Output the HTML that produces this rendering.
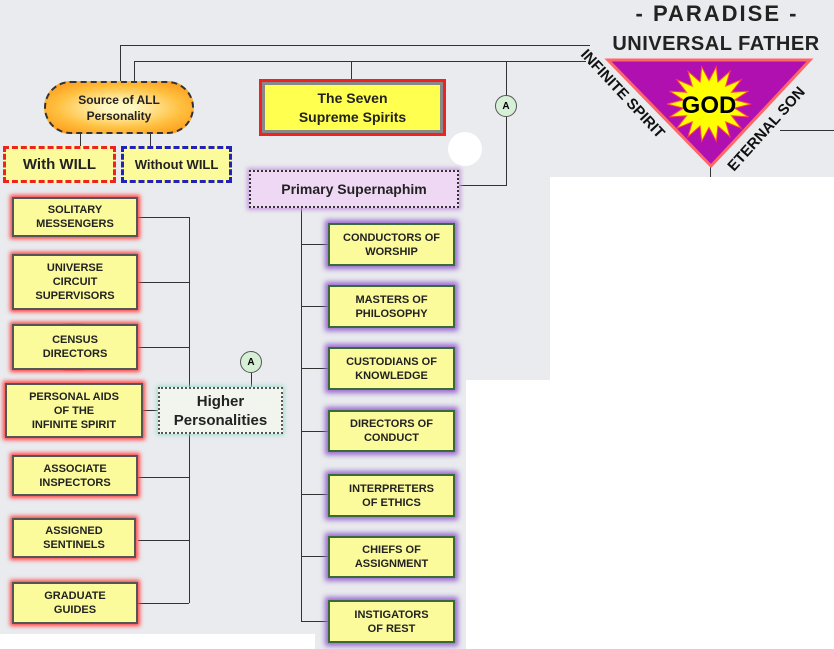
<!DOCTYPE html>
<html><head><meta charset="utf-8"><style>
body{margin:0;width:834px;height:649px;position:relative;overflow:hidden;background:#fff;font-family:"Liberation Sans",Verdana,sans-serif;}
.bg{position:absolute;background:#e9ebee;}
.b{position:absolute;box-sizing:border-box;background:#fbfb9c;border:2px solid #555;display:flex;align-items:center;justify-content:center;text-align:center;font-weight:bold;font-size:11px;line-height:14px;color:#222;}
.l{box-shadow:0 0 4px 2px #f44;}
.r{box-shadow:0 0 5px 3px #9a6ad0;border-color:#3a6a3a;}
.h{position:absolute;background:#333;}
.c{position:absolute;width:22px;height:22px;border-radius:50%;background:#d6f0d6;border:1px solid #555;font-size:10px;font-weight:bold;display:flex;align-items:center;justify-content:center;box-sizing:border-box;}
</style></head><body>
<div class="bg" style="left:0;top:0;width:834px;height:177px"></div>
<div class="bg" style="left:0;top:177px;width:550px;height:203px"></div>
<div class="bg" style="left:0;top:380px;width:466px;height:254px"></div>
<div class="bg" style="left:315px;top:634px;width:151px;height:15px"></div>

<div class="h" style="left:120px;top:45px;width:470px;height:1px"></div>
<div class="h" style="left:351px;top:61px;width:235px;height:1px"></div>
<div class="h" style="left:120px;top:45px;width:1px;height:37px"></div>
<div class="h" style="left:134px;top:61px;width:1px;height:21px"></div>
<div class="h" style="left:134px;top:61px;width:217px;height:1px"></div>
<div class="h" style="left:351px;top:61px;width:1px;height:18px"></div>
<div class="h" style="left:506px;top:61px;width:1px;height:124px"></div>
<div class="h" style="left:459px;top:185px;width:48px;height:1px"></div>
<div class="h" style="left:780px;top:130px;width:54px;height:1px"></div>
<div class="h" style="left:710px;top:163px;width:1px;height:14px"></div>
<div class="h" style="left:80px;top:134px;width:1px;height:12px"></div>
<div class="h" style="left:150px;top:134px;width:1px;height:12px"></div>
<div class="h" style="left:189px;top:217px;width:1px;height:386px"></div>
<div class="h" style="left:301px;top:208px;width:1px;height:414px"></div>
<div class="h" style="left:251px;top:373px;width:1px;height:14px"></div>
<div class="h" style="left:138px;top:217px;width:51px;height:1px"></div>
<div class="h" style="left:138px;top:282px;width:51px;height:1px"></div>
<div class="h" style="left:138px;top:347px;width:51px;height:1px"></div>
<div class="h" style="left:138px;top:410px;width:20px;height:1px"></div>
<div class="h" style="left:138px;top:477px;width:51px;height:1px"></div>
<div class="h" style="left:138px;top:540px;width:51px;height:1px"></div>
<div class="h" style="left:138px;top:603px;width:51px;height:1px"></div>
<div class="h" style="left:301px;top:244px;width:27px;height:1px"></div>
<div class="h" style="left:301px;top:306px;width:27px;height:1px"></div>
<div class="h" style="left:301px;top:368px;width:27px;height:1px"></div>
<div class="h" style="left:301px;top:431px;width:27px;height:1px"></div>
<div class="h" style="left:301px;top:494px;width:27px;height:1px"></div>
<div class="h" style="left:301px;top:556px;width:27px;height:1px"></div>
<div class="h" style="left:301px;top:621px;width:27px;height:1px"></div>

<div style="position:absolute;left:600px;top:1px;width:234px;text-align:center;font-weight:bold;font-size:22px;color:#222;letter-spacing:2px">- PARADISE -</div>
<div style="position:absolute;left:596px;top:33px;width:240px;text-align:center;font-weight:bold;font-size:20px;color:#222;letter-spacing:0.5px">UNIVERSAL FATHER</div>
<svg style="position:absolute;left:0;top:0" width="834" height="649">
<polygon points="608,60 810,60 711,166" fill="#b010b0" stroke="#f66" stroke-width="3"/>
<polygon id="s" fill="#ffff00" stroke="#f44" stroke-width="1" points=""/>
<text x="709" y="113" font-family="Liberation Sans" font-weight="bold" font-size="24" text-anchor="middle" fill="#000">GOD</text>
<text transform="translate(580,55) rotate(47)" font-family="Liberation Sans" font-weight="bold" font-size="15" fill="#111">INFINITE SPIRIT</text>
<text transform="translate(734,172) rotate(-48)" font-family="Liberation Sans" font-weight="bold" font-size="15" fill="#111">ETERNAL SON</text>
<circle cx="465" cy="149" r="17" fill="#fff"/>
<ellipse cx="73" cy="347" rx="58" ry="21" fill="none" stroke="#e00" stroke-width="5"/>
</svg>
<script>
var p=[],n=18;for(var i=0;i<2*n;i++){var r=i%2?26:42,a=i*Math.PI/n;p.push((709+r*Math.cos(a)).toFixed(1)+","+(104+r*0.9*Math.sin(a)).toFixed(1));}
document.getElementById('s').setAttribute('points',p.join(' '));
</script>

<div class="b" style="left:44px;top:81px;width:150px;height:53px;border-radius:27px;border:2px dashed #333;background:radial-gradient(ellipse,#fff8c0 15%,#ffc040 60%,#ff9010);font-size:12px;line-height:16px">Source of ALL<br>Personality</div>
<div class="b" style="left:3px;top:146px;width:113px;height:37px;border:3px dashed #e22;font-size:15px">With WILL</div>
<div class="b" style="left:121px;top:146px;width:111px;height:37px;border:3px dashed #22b;font-size:13px">Without WILL</div>
<div class="b" style="left:259px;top:79px;width:187px;height:57px;border:3px solid #e22;font-size:14px;line-height:19px;background:#ffff50;box-shadow:inset 0 0 0 3px #888">The Seven<br>Supreme Spirits</div>
<div class="c" style="left:495px;top:95px">A</div>
<div class="b" style="left:249px;top:170px;width:210px;height:38px;border:2px dotted #333;background:#efd8f4;font-size:14px;box-shadow:0 0 4px 2px #c8a0e0">Primary Supernaphim</div>

<div class="b l" style="left:12px;top:197px;width:126px;height:40px">SOLITARY<br>MESSENGERS</div>
<div class="b l" style="left:12px;top:254px;width:126px;height:56px">UNIVERSE<br>CIRCUIT<br>SUPERVISORS</div>
<div class="b l" style="left:12px;top:324px;width:126px;height:46px">CENSUS<br>DIRECTORS</div>
<div class="b l" style="left:5px;top:383px;width:138px;height:55px">PERSONAL AIDS<br>OF THE<br>INFINITE SPIRIT</div>
<div class="b l" style="left:12px;top:455px;width:126px;height:41px">ASSOCIATE<br>INSPECTORS</div>
<div class="b l" style="left:12px;top:518px;width:124px;height:40px">ASSIGNED<br>SENTINELS</div>
<div class="b l" style="left:12px;top:582px;width:126px;height:42px">GRADUATE<br>GUIDES</div>

<div class="c" style="left:240px;top:351px">A</div>
<div class="b" style="left:158px;top:387px;width:125px;height:47px;border:2px dotted #555;background:#f1f5ee;font-size:15px;line-height:19px;box-shadow:0 0 4px 1px #9dc">Higher<br>Personalities</div>

<div class="b r" style="left:328px;top:223px;width:127px;height:43px">CONDUCTORS OF<br>WORSHIP</div>
<div class="b r" style="left:328px;top:285px;width:127px;height:43px">MASTERS OF<br>PHILOSOPHY</div>
<div class="b r" style="left:328px;top:347px;width:127px;height:43px">CUSTODIANS OF<br>KNOWLEDGE</div>
<div class="b r" style="left:328px;top:410px;width:127px;height:42px">DIRECTORS OF<br>CONDUCT</div>
<div class="b r" style="left:328px;top:474px;width:127px;height:43px">INTERPRETERS<br>OF ETHICS</div>
<div class="b r" style="left:328px;top:536px;width:127px;height:42px">CHIEFS OF<br>ASSIGNMENT</div>
<div class="b r" style="left:328px;top:600px;width:127px;height:43px">INSTIGATORS<br>OF REST</div>
</body></html>
